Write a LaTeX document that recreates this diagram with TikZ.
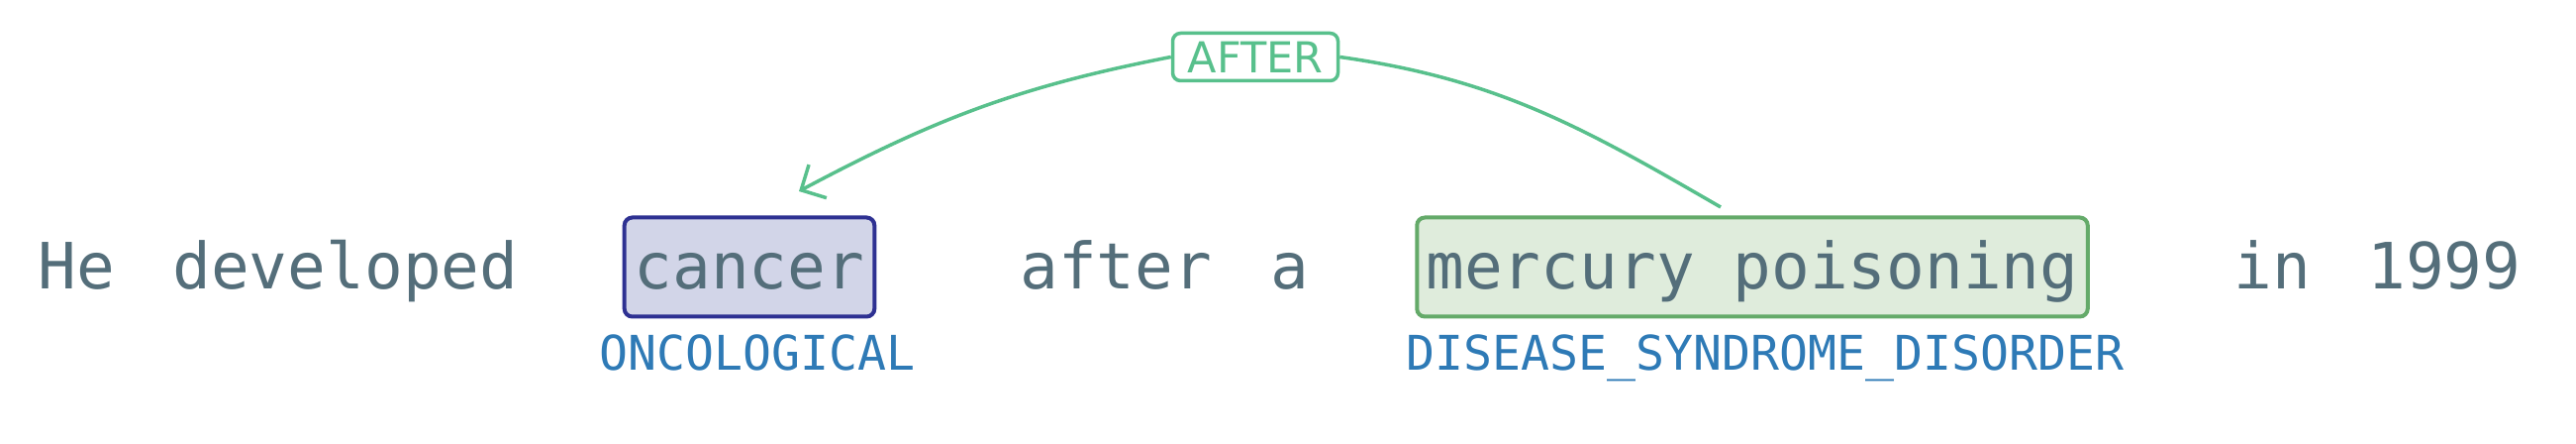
\documentclass[tikz,border=0pt]{standalone}
\usepackage{fontspec}
\setmainfont{DejaVu Sans}
\newfontfamily\monofont{DejaVu Sans Mono}
\usetikzlibrary{arrows.meta}

\definecolor{texto}{HTML}{546E7A}
\definecolor{etiqueta}{HTML}{2E7AB6}
\definecolor{relverde}{HTML}{58C08C}
\definecolor{azulborde}{HTML}{2E3192}
\definecolor{azulfondo}{HTML}{D2D5E8}
\definecolor{verdeborde}{HTML}{64AA69}
\definecolor{verdefondo}{HTML}{DFECDC}

\tikzset{
    palabra/.style={anchor=base west, inner sep=0pt, text=texto,
        font=\monofont\fontsize{32.2pt}{36pt}\selectfont},
    entidad/.style={anchor=base, draw, line width=2pt, rounded corners=4pt,
        inner xsep=5pt, inner ysep=0pt, text height=36.25pt, text depth=13.75pt,
        text=texto, font=\monofont\fontsize{32.2pt}{36pt}\selectfont},
    tipo/.style={anchor=base, inner sep=0pt, text=etiqueta,
        font=\monofont\fontsize{24.1pt}{28pt}\selectfont},
    conector/.style={draw=relverde, line width=1.75pt}
}

\begin{document}
\begin{tikzpicture}[x=0.5pt, y=0.5pt]
            \useasboundingbox (0,0) rectangle (2602,448);

            % Palabras
            \node[palabra] (he) at (38,156) {He};
            \node[palabra] (developed) at (174,156) {developed};
            \node[palabra] (after) at (1030,156) {after};
            \node[palabra] (a) at (1283,156) {a};
            \node[palabra] (in) at (2256,156) {in};
            \node[palabra] (year) at (2391,156) {1999};

            % Entidades
            \node[entidad, draw=azulborde, fill=azulfondo] (cancer) at (757,156) {cancer};
            \node[entidad, draw=verdeborde, fill=verdefondo, inner xsep=4.6pt] (mercury) at (1770,156) {mercury poisoning};

            % Etiquetas
            \node[tipo] (oncological) at ([xshift=4pt, yshift=-26.25pt]cancer.south) {ONCOLOGICAL};
            \node[tipo] (disease) at ([xshift=6.5pt, yshift=-26.25pt]mercury.south) {DISEASE\_SYNDROME\_DISORDER};

            % Relación
            \node[draw=relverde, line width=1.75pt, rounded corners=4pt, fill=white, text=relverde,
                minimum width=83.5pt, minimum height=24pt, inner sep=0pt,
                font=\fontsize{21.5pt}{24pt}\selectfont] (rel) at (1268,390.5) {AFTER};

            % Flecha
            \draw[conector] ([xshift=-16pt, yshift=4.25pt]mercury.north) to[out=150, in=-8] (rel.east);
            \draw[conector, -{Straight Barb[length=9.5pt, width=19pt]}] (rel.west)
                to[out=191, in=28] ([xshift=25pt, yshift=12.25pt]cancer.north);
\end{tikzpicture}
\end{document}
